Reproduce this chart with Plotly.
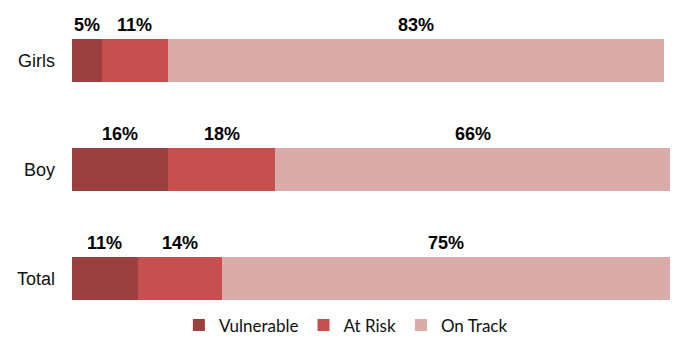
import plotly.graph_objects as go

# Share of children in each developmental group (percent)
groups = ["Girls", "Boy", "Total"]
series_names = ["Vulnerable", "At Risk", "On Track"]
vulnerable = [5, 16, 11]
at_risk = [11, 18, 14]
on_track = [83, 66, 75]
colors = ["#9B3F3F", "#C5504F", "#D9ABA9"]

values = [vulnerable, at_risk, on_track]

fig = go.Figure()
for name, vals, col in zip(series_names, values, colors):
    fig.add_trace(go.Bar(
        y=groups, x=vals, name=name, orientation="h",
        marker=dict(color=col, line=dict(width=0)),
        width=0.395,
    ))

# Percentage labels above the middle of each segment
annotations = []
for gi, g in enumerate(groups):
    base = 0
    for vals in values:
        v = vals[gi]
        annotations.append(dict(
            x=base + v / 2, y=g, xref="x", yref="y",
            text=f"<b>{v}%</b>", showarrow=False, yshift=36,
            font=dict(family="Arial", size=18, color="#000000"),
            xanchor="center", yanchor="middle",
        ))
        base += v

fig.update_layout(
    barmode="stack",
    width=681, height=339,
    margin=dict(l=72, r=11, t=6, b=6, autoexpand=False),
    paper_bgcolor="white", plot_bgcolor="white",
    showlegend=True,
    legend=dict(
        orientation="h", x=0.458, xanchor="center", y=-0.032, yanchor="bottom",
        font=dict(family="Lato", size=17, color="#111111"),
        traceorder="normal", itemwidth=30, bgcolor="rgba(0,0,0,0)",
    ),
    annotations=annotations,
    bargap=0.6,
)
fig.update_xaxes(range=[0, 100], visible=False, fixedrange=True)
fig.update_yaxes(
    categoryorder="array", categoryarray=groups[::-1],
    range=[-0.5, 2.5],
    showgrid=False, zeroline=False, showline=False, ticks="",
    ticklabelstandoff=16,
    tickfont=dict(family="Arial", size=18, color="#111111"),
)

fig.write_html("out.html")
